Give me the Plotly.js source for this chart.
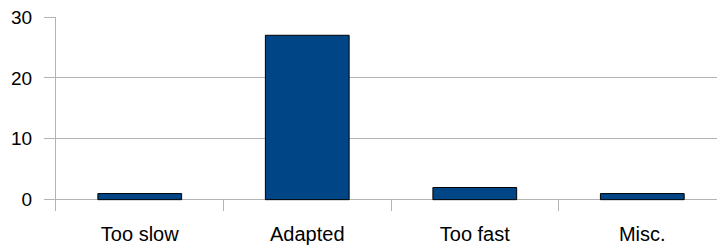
<!DOCTYPE html>
<html>
<head>
<meta charset="utf-8">
<script src="https://cdn.plot.ly/plotly-3.0.1.min.js"></script>
<style>html,body{margin:0;padding:0;background:#fff;}#chart{width:717px;height:246px;}</style>
</head>
<body>
<div id="chart"></div>
<script>
var categories = ["Too slow", "Adapted", "Too fast", "Misc."];
var counts = [1, 27, 2, 1];
var yTicks = [0, 10, 20, 30];

var grid = "#b3b3b3";
var trace = {
  type: "bar",
  x: categories,
  y: counts,
  marker: {color: "#004586", line: {color: "#000000", width: 1}},
  hoverinfo: "skip"
};
var layout = {
  width: 717, height: 246,
  margin: {l: 56, r: 0, t: 17, b: 35, pad: 0},
  paper_bgcolor: "#ffffff", plot_bgcolor: "#ffffff",
  showlegend: false,
  bargap: 0.5,
  font: {family: "Liberation Sans, Arial, sans-serif", size: 19, color: "#000000"},
  xaxis: {
    type: "category",
    range: [-0.5, 3.446],
    showgrid: false, zeroline: false, showline: false,
    ticks: "inside", tickson: "boundaries", ticklen: 11, tickcolor: grid, tickwidth: 1,
    ticklabelstandoff: 9,
    tickfont: {size: 20, color: "#000000"}
  },
  yaxis: {
    range: [-1.86, 30],
    tickvals: yTicks,
    ticktext: yTicks.map(String),
    showgrid: true, gridcolor: grid, gridwidth: 1,
    zeroline: false,
    showline: true, linecolor: grid, linewidth: 1,
    ticks: "outside", ticklen: 11, tickcolor: grid, tickwidth: 1,
    ticklabelstandoff: 8,
    tickfont: {size: 19, color: "#000000"}
  }
};
Plotly.newPlot("chart", [trace], layout, {staticPlot: true, displayModeBar: false});
</script>
</body>
</html>
